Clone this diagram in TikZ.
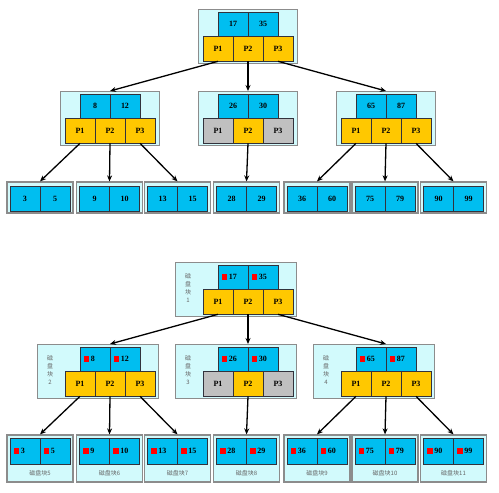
\documentclass[tikz,border=0pt]{standalone}
\usepackage{fontspec}
\setmainfont{Liberation Serif}
\newfontfamily\cjk{Noto Sans CJK SC}
\usetikzlibrary{arrows.meta,positioning}
\definecolor{keyblue}{RGB}{0,190,240}
\definecolor{ptryellow}{RGB}{255,200,0}
\definecolor{ptrgray}{RGB}{192,192,192}
\definecolor{boxcyan}{RGB}{210,250,252}
\definecolor{boxedge}{RGB}{140,140,140}
\definecolor{celledge}{RGB}{50,50,60}
\tikzset{
  outerbox/.style={draw=boxedge, fill=boxcyan, line width=1.2pt, inner sep=0pt, anchor=north west},
  leafbox/.style={draw=boxedge, fill=boxcyan, line width=1.2pt, inner sep=0pt},
  keycell/.style={draw=celledge, fill=keyblue, line width=0.6pt, minimum width=30pt,
    minimum height=24pt, inner sep=0pt, font=\fontsize{8}{9}\selectfont\bfseries},
  ptrcell/.style={keycell, fill=ptryellow, minimum height=25pt},
  nullcell/.style={ptrcell, fill=ptrgray},
  redmark/.style={fill=red, minimum size=5.5pt, inner sep=0pt},
  keytext/.style={inner sep=0pt, font=\fontsize{8}{9}\selectfont\bfseries},
  disklabel/.style={font=\cjk\fontsize{6}{8}\selectfont, text=black!60, inner sep=0pt, align=center},
  ptrarrow/.style={-{Stealth[length=6pt,width=5pt]}, line width=1.3pt},
}
% node of the plain tree: name, centre x, top y, keys, styles of P1..P3
\newcommand{\topnode}[8]{%
  \node[outerbox, minimum width=99pt, minimum height=54pt] (#1) at ({#2-50},#3) {};
  \coordinate (#1in) at (#2,#3);
  \node[keycell] (#1k1) at ({#2-15},{#3+15}) {#4};
  \node[keycell] (#1k2) at ({#2+15},{#3+15}) {#5};
  \node[#6] (#1p1) at ({#2-30},{#3+39.5}) {P1};
  \node[#7] (#1p2) at (#2,{#3+39.5}) {P2};
  \node[#8] (#1p3) at ({#2+30},{#3+39.5}) {P3};
}
% node of the disk tree: same, plus block number
\newcommand{\disknode}[9]{%
  \node[outerbox, minimum width=121pt, minimum height=54pt] (#1) at ({#2-73},#3) {};
  \node[disklabel] (#1lab) at ({#2-60},{#3+26}) {磁\\盘\\块\\#9};
  \coordinate (#1in) at (#2,#3);
  \node[keycell] (#1k1) at ({#2-15},{#3+15}) {};
  \node[keycell] (#1k2) at ({#2+15},{#3+15}) {};
  \node[redmark, right=4pt of #1k1.west] (#1r1) {};
  \node[keytext, right=1pt of #1r1] (#1t1) {#4};
  \node[redmark, right=4pt of #1k2.west] (#1r2) {};
  \node[keytext, right=1pt of #1r2] (#1t2) {#5};
  \node[#6] (#1p1) at ({#2-30},{#3+39.5}) {P1};
  \node[#7] (#1p2) at (#2,{#3+39.5}) {P2};
  \node[#8] (#1p3) at ({#2+30},{#3+39.5}) {P3};
}
% leaves: name, centre x, keys (and block number)
\newcommand{\topleaf}[4]{%
  \node[leafbox, minimum width=66pt, minimum height=31pt] (#1) at (#2,197.5) {};
  \node[keycell, minimum height=25pt] (#1k1) at ({#2-15},198.5) {#3};
  \node[keycell, minimum height=25pt] (#1k2) at ({#2+15},198.5) {#4};
}
\newcommand{\diskleaf}[5]{%
  \node[leafbox, minimum width=66pt, minimum height=47pt] (#1) at (#2,458.5) {};
  \node[keycell, minimum height=26pt] (#1k1) at ({#2-15},451) {};
  \node[keycell, minimum height=26pt] (#1k2) at ({#2+15},451) {};
  \node[redmark, right=4pt of #1k1.west] (#1r1) {};
  \node[keytext, right=1pt of #1r1] (#1t1) {#3};
  \node[redmark, right=4pt of #1k2.west] (#1r2) {};
  \node[keytext, right=1pt of #1r2] (#1t2) {#4};
  \node[disklabel] (#1lab) at (#2,473) {磁盘块#5};
}

\begin{document}
\begin{tikzpicture}[x=1pt, y=-1pt]
\useasboundingbox (0,0) rectangle (499,493);

% upper tree
\topnode{tRoot}{248}{9}{17}{35}{ptrcell}{ptrcell}{ptrcell}
\topnode{tA}{110}{91}{8}{12}{ptrcell}{ptrcell}{ptrcell}
\topnode{tB}{248}{91}{26}{30}{nullcell}{ptrcell}{nullcell}
\topnode{tC}{386}{91}{65}{87}{ptrcell}{ptrcell}{ptrcell}

\topleaf{tL1}{40}{3}{5}
\topleaf{tL2}{109.5}{9}{10}
\topleaf{tL3}{177.5}{13}{15}
\topleaf{tL4}{246.5}{28}{29}
\topleaf{tL5}{317}{36}{60}
\topleaf{tL6}{385}{75}{79}
\topleaf{tL7}{453.5}{90}{99}

\draw[ptrarrow] (tRootp1.south) -- (tAin);
\draw[ptrarrow] (tRootp2.south) -- (tBin);
\draw[ptrarrow] (tRootp3.south) -- (tCin);
\draw[ptrarrow] (tAp1.south) -- (tL1.north);
\draw[ptrarrow] (tAp2.south) -- (tL2.north);
\draw[ptrarrow] (tAp3.south) -- (tL3.north);
\draw[ptrarrow] (tBp2.south) -- (tL4.north);
\draw[ptrarrow] (tCp1.south) -- (tL5.north);
\draw[ptrarrow] (tCp2.south) -- (tL6.north);
\draw[ptrarrow] (tCp3.south) -- (tL7.north);

% disk tree
\disknode{dRoot}{248}{262}{17}{35}{ptrcell}{ptrcell}{ptrcell}{1}
\disknode{dA}{110}{344}{8}{12}{ptrcell}{ptrcell}{ptrcell}{2}
\disknode{dB}{248}{344}{26}{30}{nullcell}{ptrcell}{nullcell}{3}
\disknode{dC}{386}{344}{65}{87}{ptrcell}{ptrcell}{ptrcell}{4}

\diskleaf{dL1}{40}{3}{5}{5}
\diskleaf{dL2}{109.5}{9}{10}{6}
\diskleaf{dL3}{177.5}{13}{15}{7}
\diskleaf{dL4}{246.5}{28}{29}{8}
\diskleaf{dL5}{317}{36}{60}{9}
\diskleaf{dL6}{385}{75}{79}{10}
\diskleaf{dL7}{453.5}{90}{99}{11}

\draw[ptrarrow] (dRootp1.south) -- (dAin);
\draw[ptrarrow] (dRootp2.south) -- (dBin);
\draw[ptrarrow] (dRootp3.south) -- (dCin);
\draw[ptrarrow] (dAp1.south) -- (dL1.north);
\draw[ptrarrow] (dAp2.south) -- (dL2.north);
\draw[ptrarrow] (dAp3.south) -- (dL3.north);
\draw[ptrarrow] (dBp2.south) -- (dL4.north);
\draw[ptrarrow] (dCp1.south) -- (dL5.north);
\draw[ptrarrow] (dCp2.south) -- (dL6.north);
\draw[ptrarrow] (dCp3.south) -- (dL7.north);
\end{tikzpicture}
\end{document}
